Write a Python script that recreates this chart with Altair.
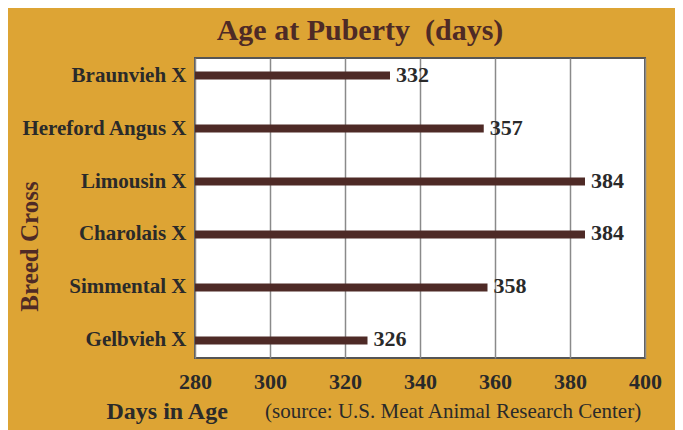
import altair as alt
import pandas as pd

breeds = ["Braunvieh X", "Hereford Angus X", "Limousin X", "Charolais X", "Simmental X", "Gelbvieh X"]
days = [332, 357, 384, 384, 358, 326]
x_ticks = [280, 300, 320, 340, 360, 380, 400]
title_text = "Age at Puberty\u00a0\u00a0(days)"
x_title = "Days in Age"
y_title = "Breed Cross"
source_text = "(source: U.S. Meat Animal Research Center)"

df = pd.DataFrame({"breed": breeds, "days": days})

FONT = "Liberation Serif"
BROWN = "#4E2A26"
DARK = "#2A2A2A"
GOLD = "#DDA434"

base = alt.Chart(df)

y_enc = alt.Y(
    "breed:N",
    sort=breeds,
    scale=alt.Scale(paddingInner=0.849, paddingOuter=0.2547),
    axis=alt.Axis(
        title=y_title,
        domain=False,
        ticks=False,
        grid=False,
        labelFont=FONT,
        labelFontSize=21,
        labelFontWeight="bold",
        labelColor=DARK,
        labelPadding=9,
        titleFont=FONT,
        titleFontSize=25,
        titleFontWeight="bold",
        titleColor=BROWN,
        titleAngle=270,
        titleBaseline="middle",
        titleX=-166,
        titleY=188,
    ),
)

x_enc = alt.X(
    "days:Q",
    scale=alt.Scale(domain=[280, 400], nice=False, zero=False),
    axis=alt.Axis(
        values=x_ticks,
        title=x_title,
        domain=False,
        ticks=False,
        grid=True,
        gridColor="#8A8A8A",
        gridWidth=1.5,
        gridOpacity=1,
        labelFont=FONT,
        labelFontSize=22,
        labelFontWeight="bold",
        labelColor=DARK,
        labelPadding=13,
        labelFlush=False,
        titleFont=FONT,
        titleFontSize=24,
        titleFontWeight="bold",
        titleColor=DARK,
        titleAlign="left",
        titleBaseline="alphabetic",
        titleX=-89,
        titleY=60,
    ),
)

bars = base.mark_bar(color=BROWN, clip=True).encode(y=y_enc, x=x_enc)

labels = base.mark_text(
    align="left", baseline="middle", dx=6, dy=-1,
    font=FONT, fontSize=22, fontWeight="bold", color=DARK,
).encode(y=alt.Y("breed:N", sort=breeds), x="days:Q", text="days:Q")

source = alt.Chart(pd.DataFrame({"t": [source_text]})).mark_text(
    align="left", baseline="alphabetic", font=FONT, fontSize=21, color=DARK,
).encode(text="t:N", x=alt.value(70), y=alt.value(360))

title = alt.Chart(pd.DataFrame({"t": [title_text]})).mark_text(
    align="center", baseline="alphabetic", font=FONT, fontSize=30,
    fontWeight="bold", color=BROWN,
).encode(text="t:N", x=alt.value(165), y=alt.value(-18))

chart = (
    alt.layer(bars, labels, source, title)
    .properties(
        width=450,
        height=300,
        autosize=alt.AutoSizeParams(type="none"),
        padding={"left": 187, "top": 50, "right": 30, "bottom": 72},
        background=GOLD,
    )
    .configure_view(fill="white", stroke="#555555", strokeWidth=2)
)

chart.save("out.html", embed_options={"renderer": "svg", "actions": False})
